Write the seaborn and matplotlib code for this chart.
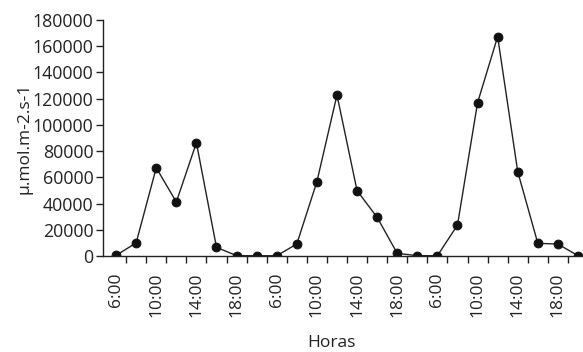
import matplotlib
matplotlib.use("Agg")
import matplotlib.pyplot as plt
import seaborn as sns
import pandas as pd
import numpy as np

hours = ["6:00", "8:00", "10:00", "12:00", "14:00", "16:00", "18:00", "20:00"] * 3
values = [500, 10000, 67300, 41200, 86400, 6600, 300, 200,
          200, 9200, 56700, 122800, 49800, 29500, 2000, 300,
          200, 23600, 116900, 167300, 64300, 9700, 9100, 300]
tick_labels = ["6:00", "10:00", "14:00", "18:00"] * 3

sns.set_style("ticks")
plt.rcParams['font.family'] = ['Open Sans', 'DejaVu Sans']

df = pd.DataFrame({"idx": np.arange(len(values)), "hora": hours, "valor": values})

fig = plt.figure(figsize=(5.83, 3.52), dpi=100)
ax = fig.add_axes([0.1767, 0.2727, 0.8233, 0.6705])
sns.lineplot(data=df, x="idx", y="valor", ax=ax, color="#222222", linewidth=1.0,
             marker="o", markersize=6.3, markerfacecolor="#111111",
             markeredgecolor="#111111")

ax.set_xlim(-0.65, 23.25)
ax.set_ylim(0, 180000)
ax.set_yticks(np.arange(0, 180001, 20000))
ax.set_yticklabels([str(v) for v in range(0, 180001, 20000)], fontsize=12.8)
ax.set_xticks(np.arange(0, 24, 2))
ax.set_xticklabels(tick_labels, rotation=90, fontsize=12.5)
ax.set_xticks(np.arange(0.5, 23, 1), minor=True)
ax.tick_params(axis="x", which="major", length=0, pad=12, colors="#222222")
ax.tick_params(axis="x", which="minor", length=5, width=1, color="#222222", direction="out")
ax.tick_params(axis="y", length=5, width=1, pad=2, color="#222222", labelcolor="#222222")
for s in ["top", "right"]:
    ax.spines[s].set_visible(False)
for s in ["left", "bottom"]:
    ax.spines[s].set_color("#222222")
    ax.spines[s].set_linewidth(1.0)
ax.set_xlabel("Horas", fontsize=12.5, color="#222222")
ax.xaxis.set_label_coords(0.475, -0.335)
ax.xaxis.label.set_va("top")
ax.set_ylabel("µ.mol.m-2.s-1", fontsize=12.5, color="#222222", labelpad=0)
ax.grid(False)

fig.savefig("out.png", dpi=100)
